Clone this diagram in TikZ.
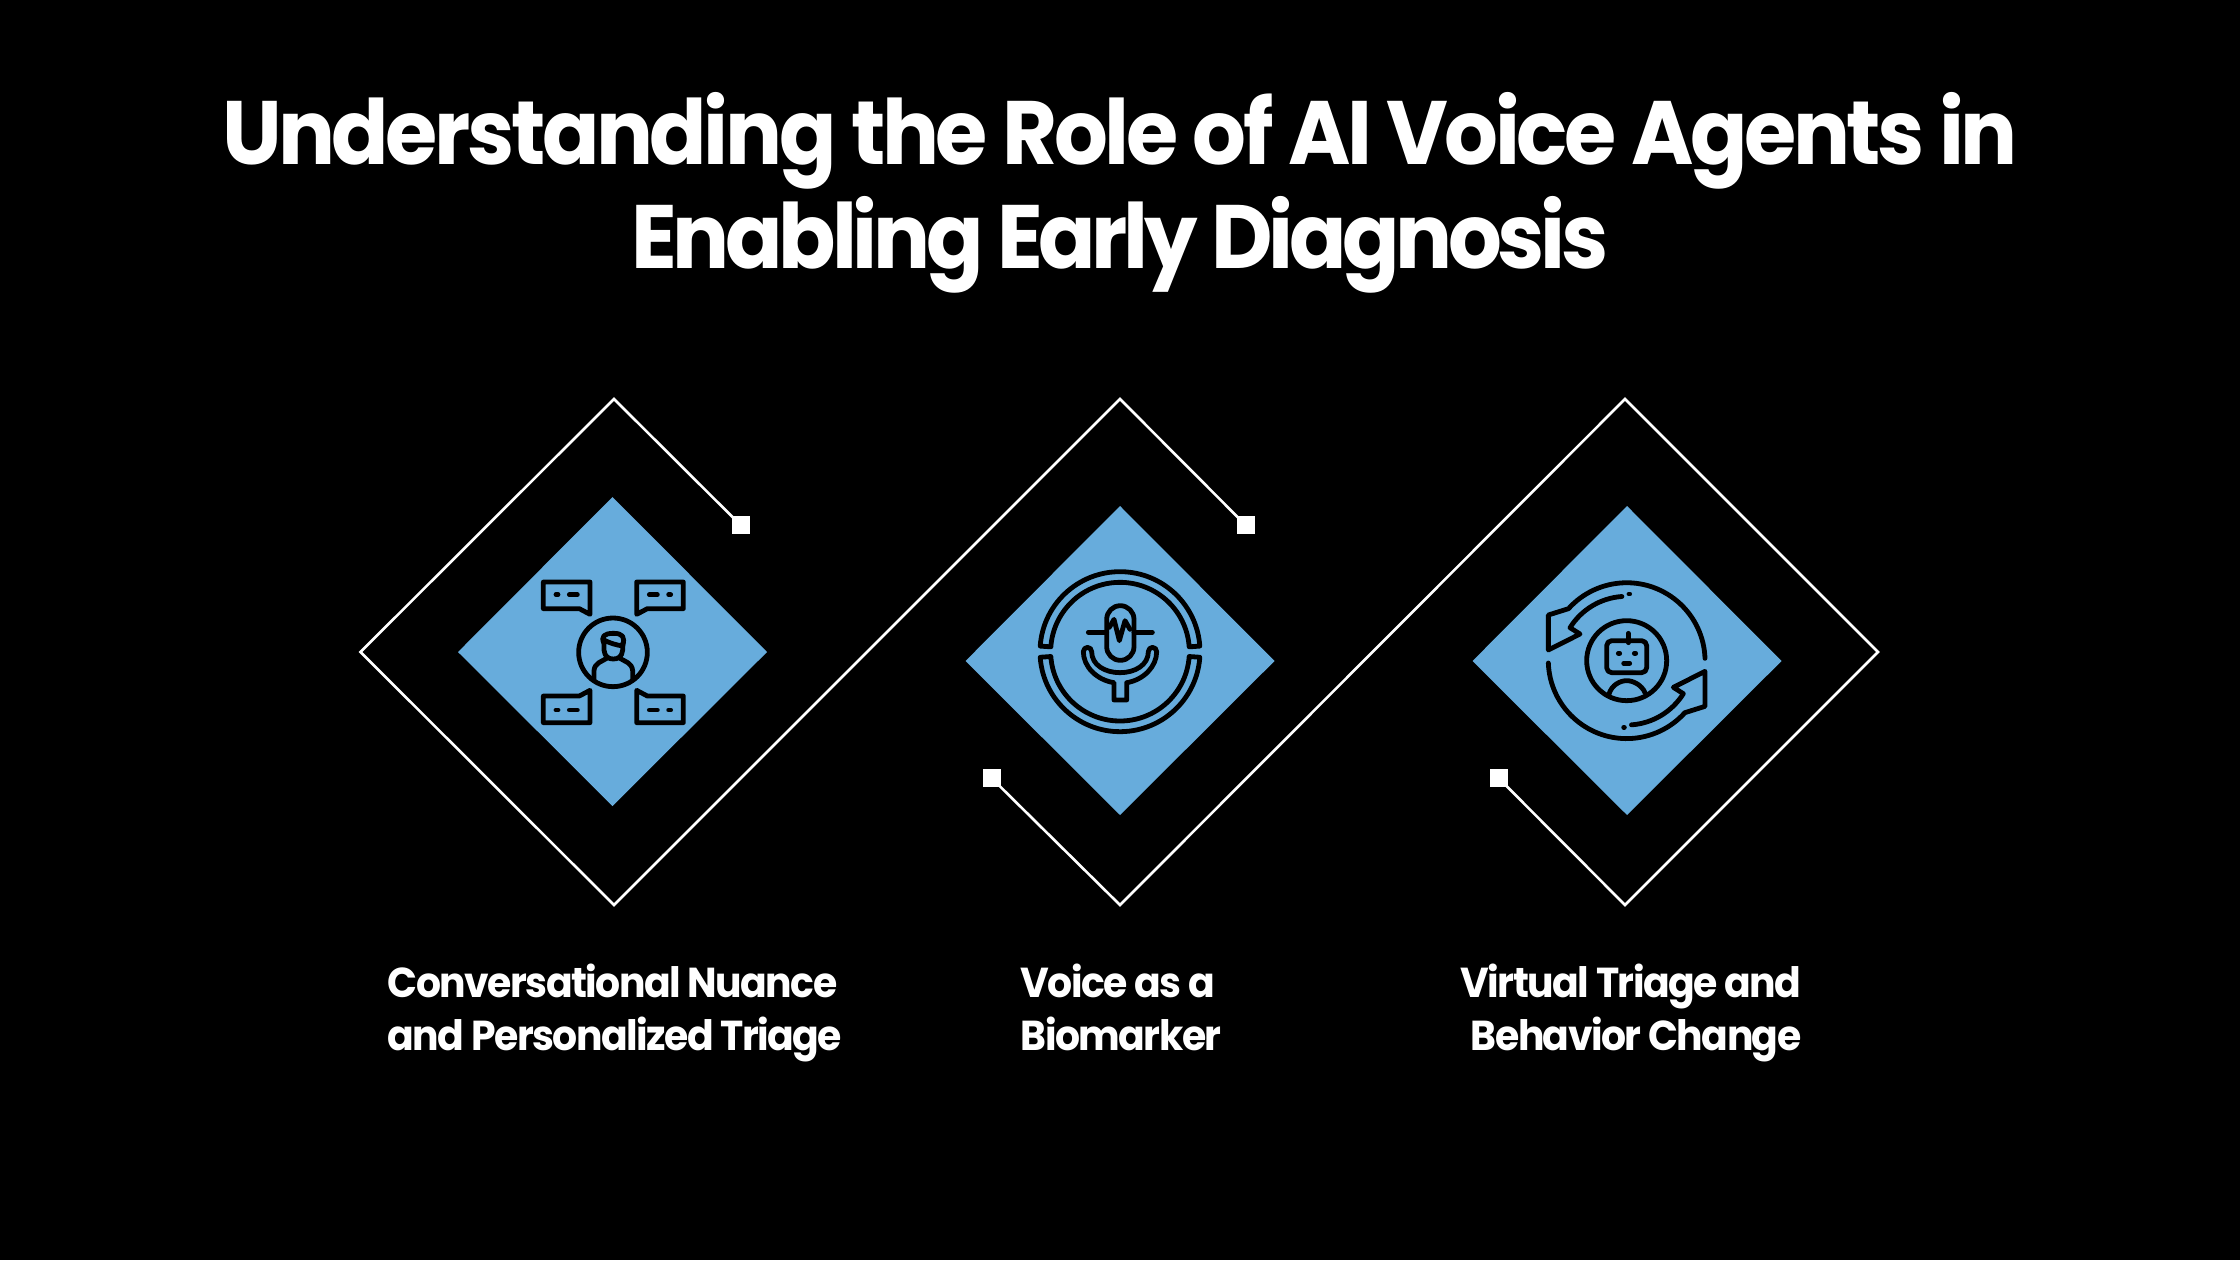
\documentclass[tikz,border=0pt]{standalone}
\usepackage{fontspec}
\newfontfamily\titlefont[LetterSpace=-3.8,FakeStretch=0.94]{Poppins}
\newfontfamily\titlefontb[LetterSpace=-4.8,FakeStretch=0.94]{Poppins}
\newfontfamily\labelfont[LetterSpace=-3.7,FakeStretch=0.94]{Poppins}
\definecolor{bluefill}{HTML}{67ACDC}
\tikzset{
  outline/.style={draw=white,line width=0.026cm,line join=miter},
  marker/.style={fill=white,draw=none,minimum size=0.18cm,inner sep=0pt,outer sep=0pt,rectangle},
  panel/.style={fill=bluefill,draw=none},
  ink/.style={draw=black,line width=0.048cm,line cap=round,line join=round},
  titletext/.style={text=white,anchor=base,inner sep=0pt,font=\titlefont\bfseries\fontsize{25.6pt}{29.3pt}\selectfont},
  titletextb/.style={text=white,anchor=base,inner sep=0pt,font=\titlefontb\bfseries\fontsize{25.6pt}{29.3pt}\selectfont},
  labeltext/.style={text=white,anchor=base west,inner sep=0pt,font=\labelfont\bfseries\fontsize{11.9pt}{14.8pt}\selectfont},
}
\begin{document}
\begin{tikzpicture}[x=0.01cm,y=-0.01cm]
\useasboundingbox[fill=black] (0,0) rectangle (2240,1260);
% title
\node[titletext] (t1) at (1120,164) {Understanding the Role of AI Voice Agents in};
\node[titletextb] (t2) at (1120,268) {Enabling Early Diagnosis};
% outline
\node[marker] (m1) at (740.5,525) {};
\node[marker] (m2) at (1245.5,525) {};
\node[marker] (m3) at (991.5,778) {};
\node[marker] (m4) at (1498.5,778) {};
\coordinate (a1) at (614,399);
\coordinate (a2) at (360.5,652);
\coordinate (a3) at (614,905);
\coordinate (a4) at (1120,399);
\coordinate (a5) at (1120,905);
\coordinate (a6) at (1625,399);
\coordinate (a7) at (1878,652);
\coordinate (a8) at (1625,905);
\draw[outline] (m1.center) -- (a1) -- (a2) -- (a3) -- (a4) -- (m2.center);
\draw[outline] (m3.center) -- (a5) -- (a6) -- (a7) -- (a8) -- (m4.center);
% panels
\fill[panel] (612.5,497) -- (767,652) -- (612.5,806) -- (458,652) -- cycle;
\fill[panel] (1120,506) -- (1274.5,661) -- (1120,815) -- (965.5,661) -- cycle;
\fill[panel] (1627,506) -- (1781.5,661) -- (1627,815) -- (1472.5,661) -- cycle;
% icon 1
\begin{scope}[shift={(440,480)},scale=1/3,ink]
\draw (519,517) circle[radius=103];
\foreach \sx/\sy/\ox/\oy in {1/1/0/0,-1/1/1040/0,1/-1/0/1034,-1/-1/1040/1034}{
\begin{scope}[shift={(\ox,\oy)},xscale=\sx,yscale=\sy]
\draw (450,403) -- (450,306) -- (310,306) -- (310,386) -- (418,386) -- cycle;
\draw (348,344) -- (354,344) (388,344) -- (412,344);
\end{scope}}
\draw (462,600) -- (462,572) .. controls (464,548) and (485,545) .. (500,535);
\draw (578,600) -- (578,572) .. controls (576,548) and (555,545) .. (540,535);
\draw (492,485) -- (492,510) .. controls (494,530) and (505,537) .. (520,537) .. controls (535,537) and (546,530) .. (548,510) -- (548,490);
\draw (492,490) .. controls (482,470) and (492,460) .. (520,460) .. controls (548,460) and (556,470) .. (548,498) .. controls (530,495) and (510,490) .. (492,480);
\end{scope}
% icon 2
\begin{scope}[shift={(960,490)},scale=1/3,ink]
\begin{scope}[shift={(480,485)}]
\draw (184:240) arc[start angle=184,end angle=356,radius=240] -- (356:208) arc[start angle=356,end angle=184,radius=208] -- cycle;
\draw (176:240) arc[start angle=176,end angle=4,radius=240] -- (4:208) arc[start angle=4,end angle=176,radius=208] -- cycle;
\end{scope}
\draw (440,388) arc[start angle=180,end angle=360,radius=41] -- (522,470) arc[start angle=0,end angle=180,radius=41] -- cycle;
\draw (385,427) -- (440,427) (522,427) -- (577,427);
\draw (448,412) -- (462,388) -- (478,452) -- (495,392) -- (510,418);
\draw (500,578) -- (500,630) -- (462,630) -- (462,578) .. controls (410,570) and (370,530) .. (370,485) .. controls (370,468) and (395,468) .. (395,485) .. controls (395,525) and (435,548) .. (480,548) .. controls (525,548) and (565,525) .. (565,485) .. controls (565,468) and (590,468) .. (590,485) .. controls (590,530) and (550,570) .. (500,578);
\end{scope}
% icon 3
\begin{scope}[shift={(1465,490)},scale=1/3,ink]
\draw (485,512) circle[radius=120];
\foreach \r in {0,180}{
\begin{scope}[rotate around={\r:(485,512)}]
\draw (720,505) arc[start angle=358,end angle=222,radius=235] -- (250,375) -- (250,480) -- (345,432) -- (315,413) arc[start angle=212,end angle=266,radius=200];
\draw (492,312) -- (494,312);
\end{scope}}
\draw[rounded corners=0.05cm] (425,452) rectangle (545,548);
\draw (490,430) -- (490,458);
\draw (460,490) -- (464,490) (508,490) -- (512,490) (476,520) -- (494,520);
\draw (432,612) .. controls (440,585) and (465,572) .. (485,572) .. controls (505,572) and (530,585) .. (540,608);
\end{scope}
% labels
\node[labeltext,align=left] (l1) at (387,1050) {Conversational Nuance\\and Personalized Triage};
\node[labeltext,align=left] (l2) at (1020,1050) {Voice as a\\Biomarker};
\node[labeltext,align=right,anchor=base east] (l3) at (1802,1050) {Virtual Triage and\\Behavior Change};
\end{tikzpicture}
\end{document}
